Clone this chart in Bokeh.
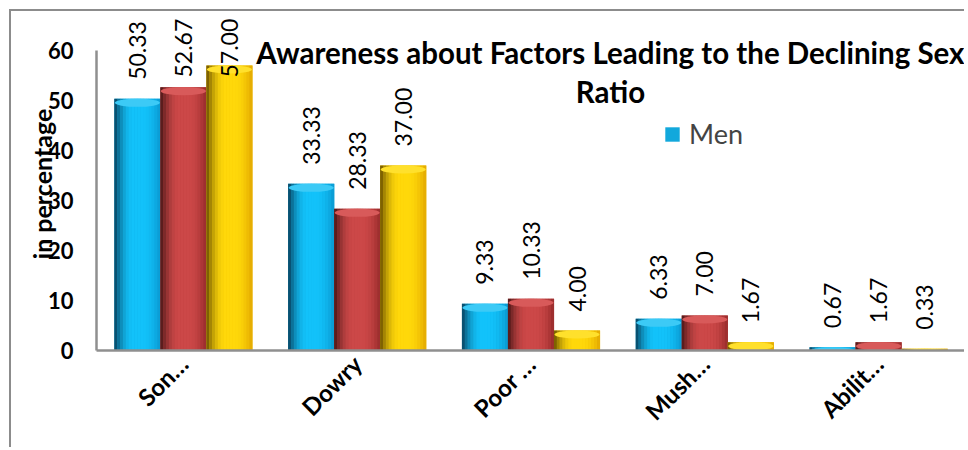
import math
from bokeh.plotting import figure
from bokeh.models import (FactorRange, Range1d, FixedTicker, Legend, LegendItem,
                          Label, ColumnDataSource)
from bokeh.transform import dodge
from bokeh.core.properties import value
from bokeh.embed import file_html
from bokeh.resources import INLINE

# ---------------- data ----------------
categories = ["Son…", "Dowry", "Poor …", "Mush…", "Abilit…"]
men = [50.33, 33.33, 9.33, 6.33, 0.67]
women = [52.67, 28.33, 10.33, 7.00, 1.67]
total = [57.00, 37.00, 4.00, 1.67, 0.33]
series_names = ["Men", "Women", "Total"]
y_ticks = [0, 10, 20, 30, 40, 50, 60]
title_line1 = "Awareness about Factors Leading to the Declining Sex"
title_line2 = "Ratio"
y_label = "in percentage"

series_values = [men, women, total]

# ---------------- style ----------------
FONT = "Lato"
bar_w = 0.2647
offsets = [-bar_w, 0.0, bar_w]
palettes = [
    # dark edge, highlight, right edge, cap, base
    ((8, 62, 90), (18, 194, 250), (10, 152, 208), (60, 202, 246), "#12A8DC"),
    ((72, 22, 22), (204, 72, 72), (150, 42, 42), (216, 90, 90), "#B83A3A"),
    ((104, 78, 0), (255, 216, 10), (226, 166, 0), (255, 224, 44), "#F2C000"),
]
N_STRIPS = 16


def mix(a, b, u):
    return "#%02x%02x%02x" % tuple(int(round(a[i] + (b[i] - a[i]) * u)) for i in range(3))


def shade(dark, bright, right, t):
    if t < 0.42:
        u = t / 0.42
        u = 1 - (1 - u) ** 2
        return mix(dark, bright, u)
    if t < 0.6:
        return mix(bright, bright, 0)
    u = (t - 0.6) / 0.4
    return mix(bright, right, u * u)


p = figure(x_range=FactorRange(*categories), y_range=Range1d(0, 66.6),
           width=955, height=438, output_backend="svg", toolbar_location=None,
           min_border_left=85, min_border_right=1, min_border_top=6,
           min_border_bottom=99)
p.styles = {"margin-left": "9px", "margin-top": "9px",
            "border-top": "2px solid #8c8c8c", "border-left": "2px solid #8c8c8c"}
p.xgrid.visible = False
p.ygrid.visible = False
p.outline_line_color = None
p.background_fill_color = "white"
p.border_fill_color = "white"

legend_renderer = None
for si, vals in enumerate(series_values):
    dark, bright, right, cap, base = palettes[si]
    src = ColumnDataSource(dict(
        cat=categories,
        v=vals,
        cap_y=[v - 0.8 for v in vals],
        ly=[min(v + 3.8, 54.6) for v in vals],
        lt=["%.2f" % v for v in vals],
    ))
    off = offsets[si]
    r = p.vbar(x=dodge("cat", off, range=p.x_range), top="v", width=bar_w,
               fill_color=base, line_color=None, source=src)
    if si == 0:
        legend_renderer = r
    sw = bar_w / N_STRIPS
    for k in range(N_STRIPS):
        t = (k + 0.5) / N_STRIPS
        col = shade(dark, bright, right, t)
        p.vbar(x=dodge("cat", off - bar_w / 2 + (k + 0.5) * sw, range=p.x_range),
               top="v", width=sw * 1.08, fill_color=col, line_color=None, source=src)
    p.ellipse(x=dodge("cat", off, range=p.x_range), y="cap_y", width=bar_w * 0.98,
              height=8, height_units="screen", fill_color=mix(cap, cap, 0),
              line_color=None, source=src)
    p.text(x=dodge("cat", off, range=p.x_range), y="ly", text="lt",
           angle=math.pi / 2, text_align="left", text_baseline="middle",
           text_font=value(FONT), text_font_size="23px", text_color="black",
           source=src)

# axes
ax = p.yaxis[0]
ax.ticker = FixedTicker(ticks=y_ticks)
ax.bounds = (0, 60)
ax.axis_line_color = "#8f8f8f"
ax.axis_line_width = 2.5
ax.major_tick_line_color = None
ax.major_tick_out = 0
ax.major_tick_in = 0
ax.minor_tick_line_color = None
ax.minor_tick_out = 0
ax.major_label_text_font = FONT
ax.major_label_text_font_style = "bold"
ax.major_label_text_font_size = "22px"
ax.major_label_text_color = "black"
ax.major_label_standoff = 23
ax.axis_label = y_label
ax.axis_label_text_font = FONT
ax.axis_label_text_font_style = "bold"
ax.axis_label_text_font_size = "25px"
ax.axis_label_text_color = "black"
ax.axis_label_standoff = -12

xa = p.xaxis[0]
xa.axis_line_color = "#8f8f8f"
xa.axis_line_width = 2.5
xa.major_tick_line_color = None
xa.major_tick_out = 0
xa.major_tick_in = 0
xa.minor_tick_line_color = None
xa.minor_tick_out = 0
xa.major_label_orientation = math.pi / 4
xa.major_label_text_font = FONT
xa.major_label_text_font_style = "bold"
xa.major_label_text_font_size = "24px"
xa.major_label_text_line_height = 1.0
xa.major_label_text_color = "black"
xa.major_label_standoff = 9

# title (two lines, inside chart)
p.add_layout(Label(x=2.957, y=59.6, text=title_line1, text_align="center",
                   text_baseline="middle", text_font=FONT, text_font_style="bold",
                   text_font_size="29.5px", text_color="black"))
p.add_layout(Label(x=2.957, y=51.8, text=title_line2, text_align="center",
                   text_baseline="middle", text_font=FONT, text_font_style="bold",
                   text_font_size="29.5px", text_color="black"))

legend = Legend(items=[LegendItem(label=series_names[0], renderers=[legend_renderer])],
                location=(567, 200), padding=0, margin=0, border_line_color=None,
                background_fill_alpha=0, glyph_width=18, glyph_height=18,
                label_standoff=8, label_text_font=FONT, label_text_font_size="27px")
p.add_layout(legend)

open("out.html", "w").write(file_html(p, INLINE))
